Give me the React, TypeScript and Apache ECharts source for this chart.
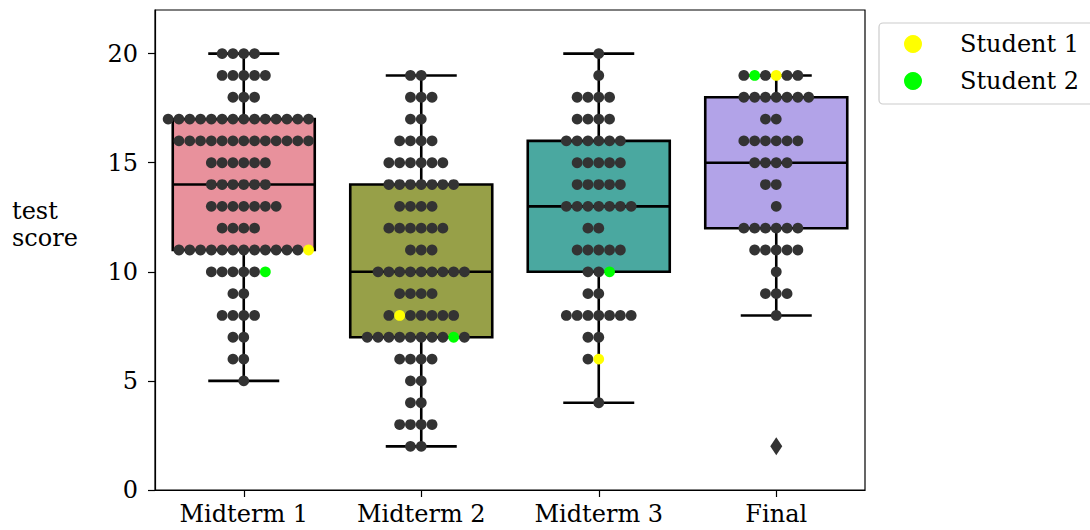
import { useEffect, useRef } from 'react';
import * as echarts from 'echarts';

// ---- data ----
const categories = ['Midterm 1', 'Midterm 2', 'Midterm 3', 'Final'];
// number of students per score 0..20 for each test
const midterm1Counts = [0, 0, 0, 0, 0, 1, 2, 2, 4, 2, 6, 13, 4, 7, 6, 6, 13, 14, 3, 5, 4];
const midterm2Counts = [0, 0, 2, 4, 2, 2, 4, 10, 7, 4, 9, 3, 6, 4, 7, 6, 4, 2, 3, 2, 0];
const midterm3Counts = [0, 0, 0, 0, 1, 0, 2, 2, 7, 2, 3, 5, 2, 7, 5, 5, 6, 4, 4, 1, 1];
const finalCounts = [0, 0, 1, 0, 0, 0, 0, 0, 1, 3, 1, 5, 6, 1, 2, 4, 6, 2, 7, 6, 0];
const student1Scores = [11, 8, 6, 19];
const student2Scores = [10, 7, 10, 19];
// order of the highlighted student inside its swarm row (0 = leftmost)
const student1Order = [12, 1, 1, 3];
const student2Order = [5, 8, 2, 1];
const yTicks = [0, 5, 10, 15, 20];

// ---- styles ----
const boxColors = ['#e8919c', '#97a048', '#4aa8a0', '#b2a3e8'];
const FONT = 'DejaVu Serif';
const FS = 24;
const DOT_R = 5.4;
const DOT_STEP = 10.8;

const allCounts = [midterm1Counts, midterm2Counts, midterm3Counts, finalCounts];

function expand(counts: number[]): number[] {
  const out: number[] = [];
  counts.forEach((n, score) => {
    for (let i = 0; i < n; i++) out.push(score);
  });
  return out;
}
function quantile(sorted: number[], q: number) {
  const pos = (sorted.length - 1) * q;
  const lo = Math.floor(pos);
  const hi = Math.ceil(pos);
  return sorted[lo] + (sorted[hi] - sorted[lo]) * (pos - lo);
}
function boxStats(counts: number[]) {
  const v = expand(counts);
  const q1 = quantile(v, 0.25);
  const med = quantile(v, 0.5);
  const q3 = quantile(v, 0.75);
  const iqr = q3 - q1;
  const loF = q1 - 1.5 * iqr;
  const hiF = q3 + 1.5 * iqr;
  const inside = v.filter((x) => x >= loF && x <= hiF);
  const fliers = v.filter((x) => x < loF || x > hiF);
  return { low: Math.min(...inside), q1, med, q3, high: Math.max(...inside), loF, hiF, fliers };
}

export default function App() {
  const ref = useRef<HTMLDivElement>(null);
  useEffect(() => {
    if (!ref.current) return;
    const chart = echarts.init(ref.current, null, { renderer: 'svg' });

    const stats = allCounts.map(boxStats);
    const boxData = stats.map((s, c) => [c, s.low, s.q1, s.med, s.q3, s.high]);
    const flierData: number[][] = [];
    stats.forEach((s, c) => s.fliers.forEach((f) => flierData.push([c, f])));

    const swarm: number[][] = [];
    const s1: number[][] = [];
    const s2: number[][] = [];
    allCounts.forEach((counts, c) => {
      const st = stats[c];
      counts.forEach((n, score) => {
        if (n === 0 || score < st.loF || score > st.hiF) return;
        for (let i = 0; i < n; i++) {
          const slot = i - Math.floor(n / 2);
          const item = [c, score, slot];
          if (student1Scores[c] === score && student1Order[c] === i) s1.push(item);
          else if (student2Scores[c] === score && student2Order[c] === i) s2.push(item);
          else swarm.push(item);
        }
      });
    });

    const dotRender = (color: string) => (params: any, api: any) => {
      const p = api.coord([api.value(0), api.value(1)]);
      return {
        type: 'circle',
        shape: { cx: p[0] + api.value(2) * DOT_STEP, cy: p[1], r: DOT_R },
        style: { fill: color },
      };
    };

    const option: any = {
      animation: false,
      backgroundColor: '#ffffff',
      grid: {
        left: 155,
        right: 225,
        top: 10,
        bottom: 40,
        show: true,
        borderColor: '#000',
        borderWidth: 1.2,
      },
      legend: {
        orient: 'vertical',
        left: 879,
        top: 23,
        backgroundColor: '#ffffff',
        borderColor: '#cccccc',
        borderWidth: 1.2,
        borderRadius: 4,
        padding: [9, 24, 11, 25],
        itemWidth: 18,
        itemHeight: 18,
        itemGap: 13,
        textStyle: { fontFamily: FONT, fontSize: FS, color: '#000', padding: [0, 0, 0, 33] },
        data: [
          { name: 'Student 1', icon: 'circle', itemStyle: { color: '#ffff00' } },
          { name: 'Student 2', icon: 'circle', itemStyle: { color: '#00ff00' } },
        ],
      },
      xAxis: {
        type: 'category',
        data: categories,
        boundaryGap: true,
        axisLine: { show: true, lineStyle: { color: '#000', width: 1.2 } },
        axisTick: { show: true, alignWithLabel: true, length: 7, lineStyle: { color: '#000', width: 1.2 } },
        axisLabel: { fontFamily: FONT, fontSize: FS, color: '#000', margin: 12 },
        splitLine: { show: false },
      },
      yAxis: {
        type: 'value',
        min: 0,
        max: 22,
        interval: 5,
        axisLine: { show: true, lineStyle: { color: '#000', width: 1.2 } },
        axisTick: { show: true, length: 7, customValues: yTicks, lineStyle: { color: '#000', width: 1.2 } },
        axisLabel: { fontFamily: FONT, fontSize: FS, color: '#000', margin: 17, customValues: yTicks },
        splitLine: { show: false },
      },
      graphic: [
        {
          type: 'text',
          left: 12,
          top: 197,
          style: {
            text: 'test\nscore',
            font: `${FS}px "${FONT}"`,
            fill: '#000',
            lineHeight: 27,
            align: 'left',
          },
        },
      ],
      series: [
        {
          type: 'custom',
          name: 'box',
          z: 2,
          data: boxData,
          encode: { x: 0, y: [1, 2, 3, 4, 5] },
          renderItem: (params: any, api: any) => {
            const c = api.value(0);
            const band = api.size([1, 0])[0];
            const w = band * 0.8;
            const cx = api.coord([c, 0])[0];
            const y = (k: number) => api.coord([c, api.value(k)])[1];
            const yLow = y(1), yQ1 = y(2), yMed = y(3), yQ3 = y(4), yHigh = y(5);
            const ls = { stroke: '#000', lineWidth: 2.6 };
            return {
              type: 'group',
              children: [
                { type: 'line', shape: { x1: cx, y1: yQ1, x2: cx, y2: yLow }, style: ls },
                { type: 'line', shape: { x1: cx, y1: yQ3, x2: cx, y2: yHigh }, style: ls },
                { type: 'line', shape: { x1: cx - w / 4, y1: yLow, x2: cx + w / 4, y2: yLow }, style: ls },
                { type: 'line', shape: { x1: cx - w / 4, y1: yHigh, x2: cx + w / 4, y2: yHigh }, style: ls },
                {
                  type: 'rect',
                  shape: { x: cx - w / 2, y: yQ3, width: w, height: yQ1 - yQ3 },
                  style: { fill: boxColors[c], stroke: '#000', lineWidth: 2.6 },
                },
                { type: 'line', shape: { x1: cx - w / 2, y1: yMed, x2: cx + w / 2, y2: yMed }, style: ls },
              ],
            };
          },
        },
        {
          type: 'custom',
          name: 'fliers',
          z: 3,
          data: flierData,
          encode: { x: 0, y: 1 },
          renderItem: (params: any, api: any) => {
            const p = api.coord([api.value(0), api.value(1)]);
            return {
              type: 'polygon',
              shape: { points: [[p[0], p[1] - 9], [p[0] + 6, p[1]], [p[0], p[1] + 9], [p[0] - 6, p[1]]] },
              style: { fill: '#333333' },
            };
          },
        },
        {
          type: 'custom',
          name: 'swarm',
          z: 4,
          data: swarm,
          encode: { x: 0, y: 1 },
          renderItem: dotRender('#333333'),
        },
        {
          type: 'custom',
          name: 'Student 1',
          z: 5,
          itemStyle: { color: '#ffff00' },
          data: s1,
          encode: { x: 0, y: 1 },
          renderItem: dotRender('#ffff00'),
        },
        {
          type: 'custom',
          name: 'Student 2',
          z: 5,
          itemStyle: { color: '#00ff00' },
          data: s2,
          encode: { x: 0, y: 1 },
          renderItem: dotRender('#00ff00'),
        },
      ],
    };
    chart.setOption(option);
    return () => chart.dispose();
  }, []);

  return (
    <div
      ref={ref}
      style={{ position: 'fixed', left: 0, top: 0, width: 1090, height: 530, background: '#fff' }}
    />
  );
}
